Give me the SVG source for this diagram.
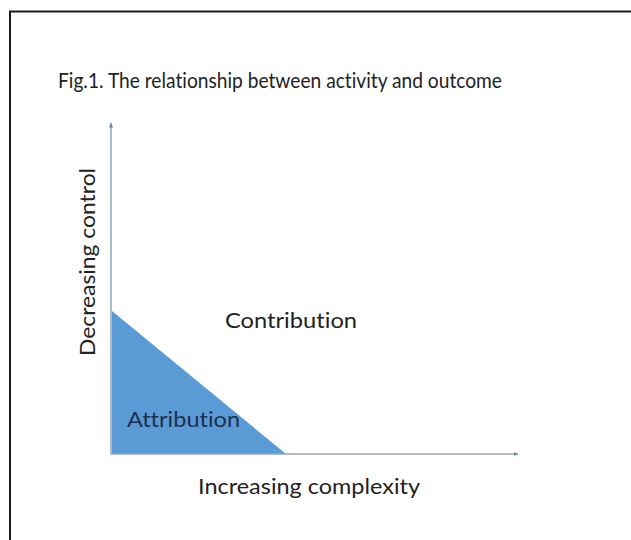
<svg xmlns="http://www.w3.org/2000/svg" width="631" height="540" viewBox="0 0 631 540">
  <style>
    .lbl { font-family: Lato, "Open Sans", "Liberation Sans", sans-serif; font-size: 21px; fill: #222222; font-variant-ligatures: none; }
    .axis { stroke: #8fa6bd; stroke-width: 1.5; fill: none; }
  </style>
  <defs>
    <marker id="arrow" viewBox="0 0 10 10" refX="9" refY="5" markerWidth="5" markerHeight="5" orient="auto" markerUnits="userSpaceOnUse">
      <path d="M0,1 L10,5 L0,9 Z" fill="#6f859b"/>
    </marker>
  </defs>
  <rect width="631" height="540" fill="#ffffff"/>
  <!-- frame: open on the right and bottom -->
  <path d="M10,541 V11.5 H632" fill="none" stroke="#1a1a1a" stroke-width="2"/>

  <g id="title">
    <text class="lbl" x="58" y="88" textLength="444" lengthAdjust="spacingAndGlyphs">Fig.1. The relationship between activity and outcome</text>
  </g>

  <g id="attribution-region">
    <polygon points="112,311 112,454 286,454" fill="#5b9bd5"/>
    <text class="lbl" x="127" y="427" style="fill:#1c2f4f" textLength="113" lengthAdjust="spacingAndGlyphs">Attribution</text>
  </g>

  <g id="contribution-region">
    <text class="lbl" x="225" y="328" textLength="132" lengthAdjust="spacingAndGlyphs">Contribution</text>
  </g>

  <g id="connectors">
    <line class="axis" x1="111" y1="454" x2="111" y2="123" marker-end="url(#arrow)"/>
    <line class="axis" x1="111" y1="454" x2="518" y2="454" marker-end="url(#arrow)"/>
  </g>

  <g id="y-axis-label">
    <text class="lbl" transform="translate(95,356) rotate(-90)" textLength="188" lengthAdjust="spacingAndGlyphs">Decreasing control</text>
  </g>

  <g id="x-axis-label">
    <text class="lbl" x="198" y="494" textLength="222" lengthAdjust="spacingAndGlyphs">Increasing complexity</text>
  </g>
</svg>
